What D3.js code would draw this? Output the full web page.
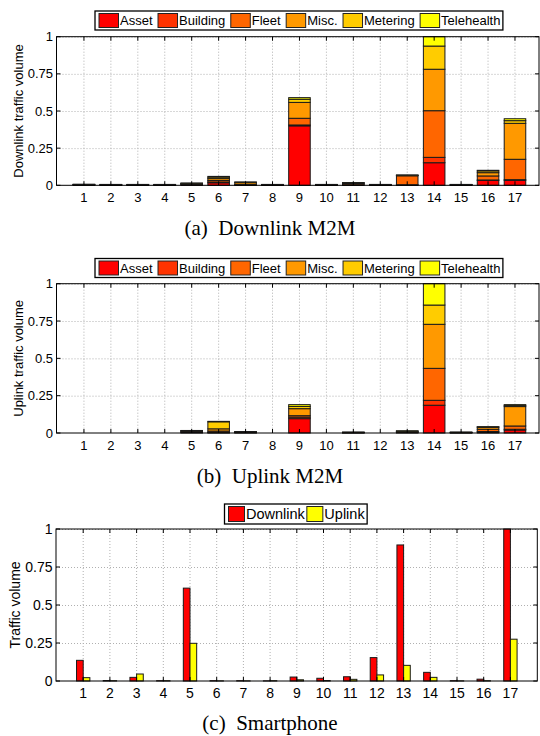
<!DOCTYPE html>
<html>
<head>
<meta charset="utf-8">
<script src="https://cdn.jsdelivr.net/npm/d3@7"></script>
<style>
  body { margin: 0; background: #fff; }
  svg { display: block; }
  text { font-family: "Liberation Sans", Arial, Helvetica, sans-serif; fill: #000; }
  .caption { font-family: "Liberation Serif", "Times New Roman", serif; }
</style>
</head>
<body>
<svg id="chart" width="540" height="736"></svg>
<script>
// ---- data: normalised traffic volume per area (1..17) ----
const categories = d3.range(1, 18);
const yTicks = [0, 0.25, 0.5, 0.75, 1];
const yTickLabels = ["0", "0.25", "0.5", "0.75", "1"];

const m2mTypes = ["Asset", "Building", "Fleet", "Misc.", "Metering", "Telehealth"];
const m2mColors = ["#ff0000", "#ff3300", "#ff6600", "#ff9900", "#ffcc00", "#ffff00"];

// Downlink M2M
const dlAsset      = [0.002, 0.001, 0.001, 0.001, 0.004, 0.017, 0.001, 0.001, 0.400, 0.001, 0.002, 0.001, 0.002, 0.152, 0.001, 0.033, 0.033];
const dlBuilding   = [0.001, 0.001, 0.001, 0.001, 0.002, 0.005, 0.001, 0.001, 0.006, 0.001, 0.002, 0.001, 0.002, 0.036, 0.001, 0.003, 0.005];
const dlFleet      = [0.001, 0.001, 0.001, 0.001, 0.003, 0.010, 0.004, 0.001, 0.045, 0.001, 0.008, 0.001, 0.060, 0.314, 0.001, 0.027, 0.137];
const dlMisc       = [0.001, 0.001, 0.001, 0.001, 0.003, 0.013, 0.012, 0.001, 0.107, 0.001, 0.004, 0.001, 0.003, 0.279, 0.001, 0.022, 0.242];
const dlMetering   = [0.001, 0.001, 0.001, 0.001, 0.002, 0.010, 0.003, 0.001, 0.021, 0.001, 0.001, 0.001, 0.001, 0.156, 0.001, 0.012, 0.018];
const dlTelehealth = [0.001, 0.001, 0.001, 0.001, 0.001, 0.005, 0.001, 0.001, 0.011, 0.001, 0.001, 0.001, 0.001, 0.063, 0.001, 0.004, 0.013];

// Uplink M2M
const ulAsset      = [0, 0, 0, 0, 0.004, 0.002, 0.002, 0, 0.096, 0, 0.001, 0, 0.003, 0.186, 0.001, 0.006, 0.020];
const ulBuilding   = [0, 0, 0, 0, 0.003, 0.003, 0.001, 0, 0.010, 0, 0.001, 0, 0.002, 0.033, 0.001, 0.004, 0.005];
const ulFleet      = [0, 0, 0, 0, 0.004, 0.008, 0.002, 0, 0.010, 0, 0.002, 0, 0.004, 0.214, 0.002, 0.015, 0.022];
const ulMisc       = [0, 0, 0, 0, 0.003, 0.015, 0.003, 0, 0.047, 0, 0.001, 0, 0.003, 0.295, 0.001, 0.013, 0.130];
const ulMetering   = [0, 0, 0, 0, 0.002, 0.047, 0.001, 0, 0.015, 0, 0.001, 0, 0.001, 0.129, 0.001, 0.003, 0.008];
const ulTelehealth = [0, 0, 0, 0, 0.001, 0.003, 0.001, 0, 0.012, 0, 0,     0, 0.001, 0.143, 0,     0.001, 0.005];

// Smartphone
const phoneSeries = ["Downlink", "Uplink"];
const phoneColors = ["#ff0000", "#ffff00"];
const phoneDownlink = [0.136, 0.003, 0.024, 0.002, 0.611, 0.002, 0.002, 0.001, 0.026, 0.018, 0.028, 0.154, 0.895, 0.057, 0.002, 0.012, 1.0];
const phoneUplink   = [0.022, 0.002, 0.046, 0.002, 0.248, 0.001, 0.001, 0.002, 0.008, 0.003, 0.011, 0.040, 0.103, 0.024, 0.001, 0.002, 0.275];

const svg = d3.select("#chart");

function buildTable(arrays) {
  return categories.map((c, i) => {
    const row = { cat: c };
    m2mTypes.forEach((t, k) => { row[t] = arrays[k][i]; });
    return row;
  });
}

// dotted grid behind the bars
function drawFrame(g, x, y, o) {
  const [x0, x1] = [x(0), o.right];
  const [yb, yt] = y.range();

  const grid = g.append("g").attr("stroke", "#b0b0b0").attr("stroke-width", 1)
    .attr("stroke-dasharray", "1,2").attr("fill", "none");
  categories.forEach(c => {
    grid.append("line").attr("x1", x(c) + 0.5).attr("x2", x(c) + 0.5).attr("y1", yt).attr("y2", yb);
  });
  yTicks.slice(1).forEach(v => {
    grid.append("line").attr("x1", x0).attr("x2", x1).attr("y1", y(v) + 0.5).attr("y2", y(v) + 0.5);
  });
}

// axes box with inward ticks, labels, axis title and caption
function drawBox(g, x, y, o) {
  const [x0, x1] = [x(0), o.right];
  const [yb, yt] = y.range();
  const box = g.append("g").attr("stroke", "#000").attr("stroke-width", 1).attr("fill", "none");
  box.append("rect").attr("x", x0).attr("y", yt).attr("width", x1 - x0).attr("height", yb - yt);
  const tl = 4;
  categories.forEach(c => {
    box.append("line").attr("x1", x(c) + 0.5).attr("x2", x(c) + 0.5).attr("y1", yb).attr("y2", yb - tl);
    box.append("line").attr("x1", x(c) + 0.5).attr("x2", x(c) + 0.5).attr("y1", yt).attr("y2", yt + tl);
  });
  yTicks.forEach(v => {
    box.append("line").attr("x1", x0).attr("x2", x0 + tl).attr("y1", y(v)).attr("y2", y(v));
    box.append("line").attr("x1", x1).attr("x2", x1 - tl).attr("y1", y(v)).attr("y2", y(v));
  });

  const fs = o.fontSize;
  g.append("g").selectAll("text").data(yTicks).join("text")
    .attr("x", x0 - 3.5).attr("y", d => y(d)).attr("dy", "0.35em")
    .attr("text-anchor", "end").style("font-size", fs + "px")
    .text((d, i) => yTickLabels[i]);
  g.append("g").selectAll("text").data(categories).join("text")
    .attr("x", d => x(d) + 0.5).attr("y", yb + 17)
    .attr("text-anchor", "middle").style("font-size", fs + "px")
    .text(d => d);
  g.append("text")
    .attr("transform", `translate(${o.titleX},${(yb + yt) / 2}) rotate(-90)`)
    .attr("dy", "0.35em").attr("text-anchor", "middle").style("font-size", fs + "px")
    .text(o.yTitle);
  g.append("text").attr("class", "caption")
    .attr("x", 270).attr("y", o.captionY).attr("text-anchor", "middle")
    .style("font-size", "21px")
    .attr("xml:space", "preserve")
    .text(o.caption);
}

function drawLegend(g, names, colors, o) {
  const lg = g.append("g");
  const box = lg.append("rect").attr("fill", "#fff").attr("stroke", "#000").attr("stroke-width", 1.3);
  let cx = o.x + 4;
  names.forEach((n, i) => {
    lg.append("rect").attr("x", cx).attr("y", o.y + 2.5).attr("width", o.sw).attr("height", o.h - 5)
      .attr("fill", colors[i]).attr("stroke", "#222").attr("stroke-width", 1);
    const t = lg.append("text").attr("x", cx + o.sw + 1.5).attr("y", o.y + o.h / 2).attr("dy", "0.36em")
      .style("font-size", o.fontSize + "px").text(n);
    cx += o.sw + 1.5 + t.node().getComputedTextLength() + o.gap;
  });
  box.attr("x", o.x).attr("y", o.y).attr("width", cx - o.gap + 2.5 - o.x).attr("height", o.h);
}

function stackedPanel(arrays, o) {
  const g = svg.append("g");
  const x = d3.scaleLinear().domain([0, 18]).range([o.left, o.left + 18 * o.step]);
  const y = d3.scaleLinear().domain([0, 1]).range([o.bottom, o.top]);
  const table = buildTable(arrays);
  const series = d3.stack().keys(m2mTypes)(table);
  drawFrame(g, x, y, o);
  const bw = 0.8 * o.step;
  g.append("g").selectAll("g").data(series).join("g")
    .attr("fill", (d, i) => m2mColors[i])
    .selectAll("rect").data(d => d.filter(s => s[1] - s[0] > 0)).join("rect")
    .attr("x", d => x(d.data.cat) - bw / 2 + 0.5)
    .attr("width", bw)
    .attr("y", d => y(d[1]))
    .attr("height", d => y(d[0]) - y(d[1]))
    .attr("stroke", "#1a1a1a").attr("stroke-width", 1);
  drawBox(g, x, y, o);
  drawLegend(g, m2mTypes, m2mColors, { x: 95, y: o.legendY, h: 19, sw: 19.5, gap: 5.5, fontSize: 13 });
}

function groupedPanel(o) {
  const g = svg.append("g");
  const x = d3.scaleLinear().domain([0, 18]).range([o.left, o.left + 18 * o.step]);
  const y = d3.scaleLinear().domain([0, 1]).range([o.bottom, o.top]);
  const table = categories.map((c, i) => ({ cat: c, vals: [phoneDownlink[i], phoneUplink[i]] }));
  drawFrame(g, x, y, o);
  const inner = d3.scaleBand().domain([0, 1]).range([-o.step * 0.25, o.step * 0.25]);
  g.append("g").selectAll("g").data(table).join("g")
    .selectAll("rect").data(d => d.vals.map((v, k) => ({ cat: d.cat, k, v }))).join("rect")
    .attr("x", d => x(d.cat) + inner(d.k) + 0.5)
    .attr("width", inner.bandwidth())
    .attr("y", d => y(d.v))
    .attr("height", d => y(0) - y(d.v))
    .attr("fill", d => phoneColors[d.k])
    .attr("stroke", "#1a1a1a").attr("stroke-width", 1);
  drawBox(g, x, y, o);
  drawLegend(g, phoneSeries, phoneColors, { x: 224.5, y: o.legendY, h: 20, sw: 16, gap: 2, fontSize: 14.5 });
}

stackedPanel([dlAsset, dlBuilding, dlFleet, dlMisc, dlMetering, dlTelehealth], {
  left: 56.5, step: 26.94, right: 539, top: 36.7, bottom: 185.3,
  fontSize: 13, titleX: 18.5, yTitle: "Downlink traffic volume",
  caption: "(a)  Downlink M2M", captionY: 235, legendY: 11
});

stackedPanel([ulAsset, ulBuilding, ulFleet, ulMisc, ulMetering, ulTelehealth], {
  left: 56.5, step: 26.94, right: 539, top: 283.7, bottom: 433,
  fontSize: 13, titleX: 18.5, yTitle: "Uplink traffic volume",
  caption: "(b)  Uplink M2M", captionY: 482.5, legendY: 258.5
});

groupedPanel({
  left: 56, step: 26.7, right: 537.3, top: 529, bottom: 681,
  fontSize: 14, titleX: 14.7, yTitle: "Traffic volume",
  caption: "(c)  Smartphone", captionY: 729.5, legendY: 504
});
</script>
</body>
</html>
